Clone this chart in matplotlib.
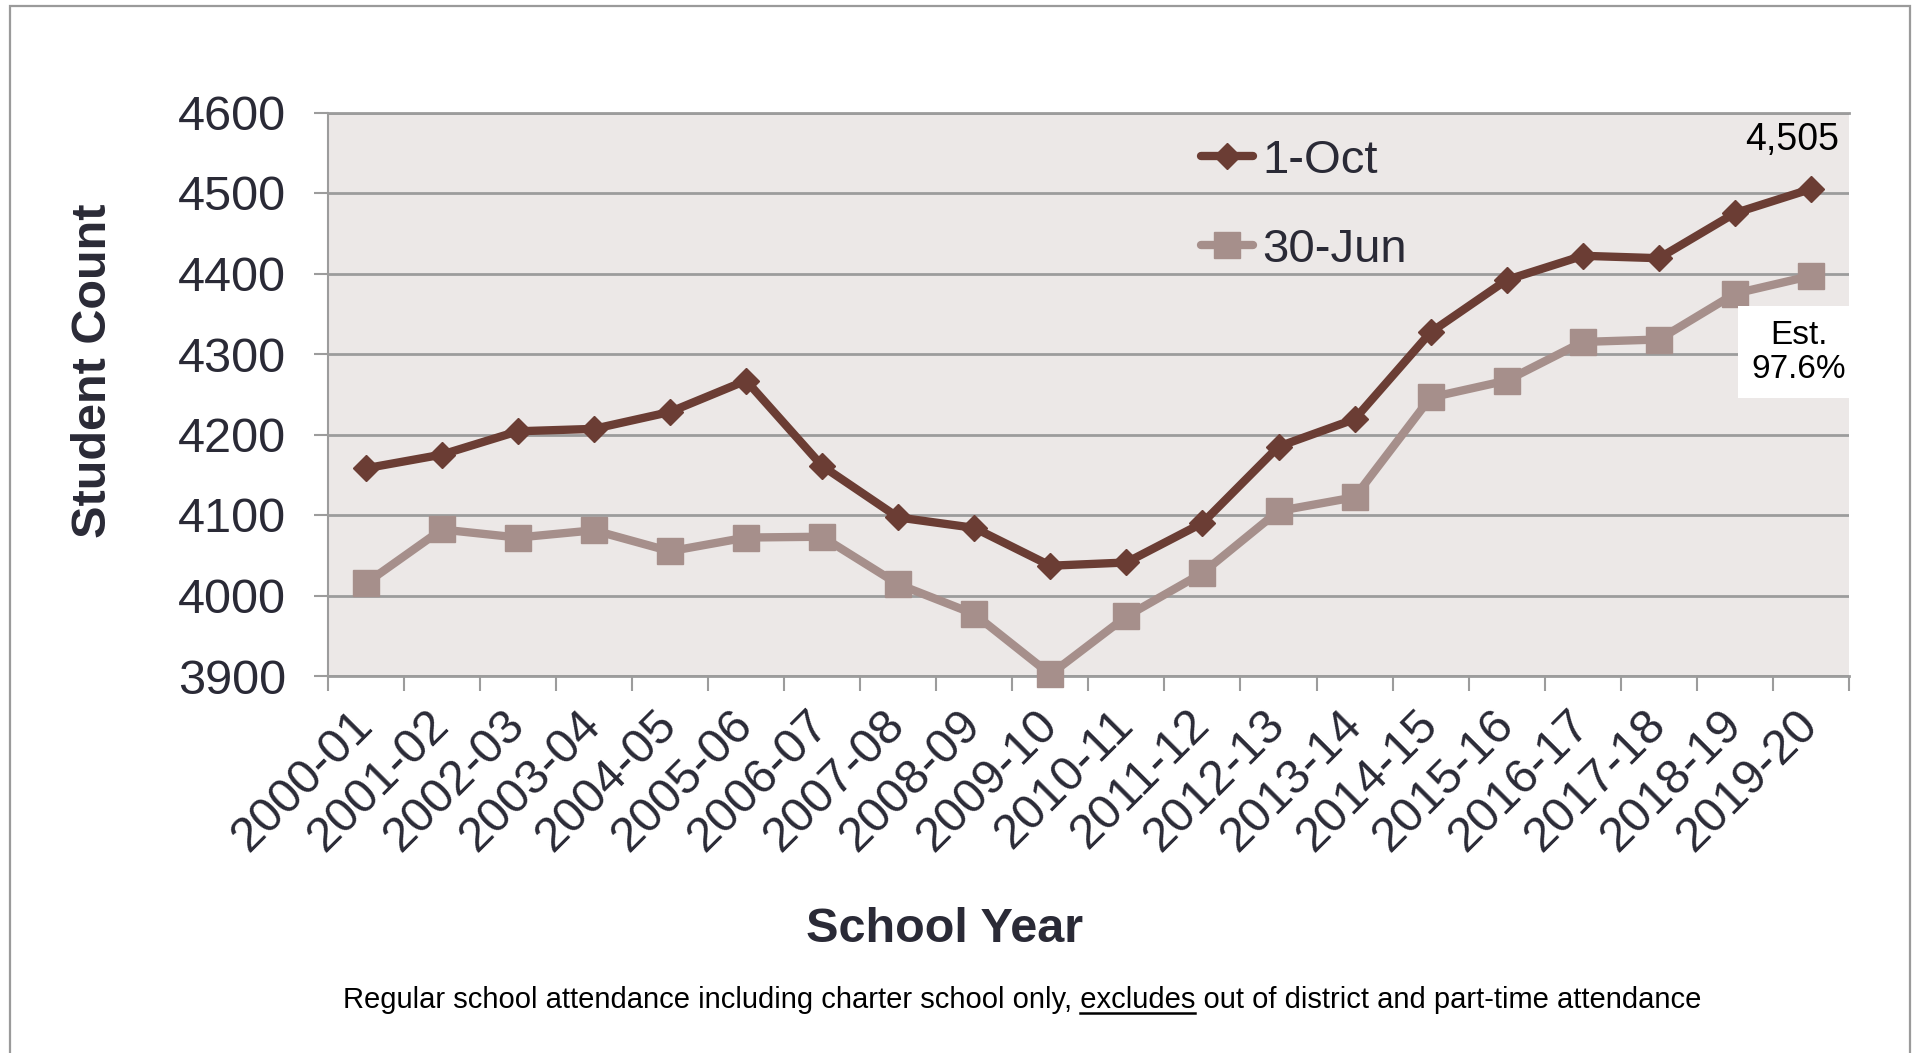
import matplotlib
matplotlib.use("Agg")
import matplotlib.pyplot as plt
from matplotlib.lines import Line2D
from matplotlib.patches import Rectangle

plt.rcParams['font.family'] = ['Liberation Sans', 'DejaVu Sans']

# data
years = ["2000-01", "2001-02", "2002-03", "2003-04", "2004-05", "2005-06",
         "2006-07", "2007-08", "2008-09", "2009-10", "2010-11", "2011-12",
         "2012-13", "2013-14", "2014-15", "2015-16", "2016-17", "2017-18",
         "2018-19", "2019-20"]
oct1 = [4158, 4175, 4204, 4207, 4228, 4267, 4161, 4097, 4084, 4037,
        4041, 4090, 4185, 4219, 4327, 4392, 4422, 4419, 4475, 4505]
jun30 = [4015, 4082, 4072, 4081, 4055, 4072, 4073, 4014, 3977, 3902,
         3974, 4028, 4105, 4122, 4246, 4267, 4315, 4318, 4375, 4397]
y_ticks = [3900, 4000, 4100, 4200, 4300, 4400, 4500, 4600]
series_names = ["1-Oct", "30-Jun"]
footer_pre = "Regular school attendance including charter school only, "
footer_mid = "excludes"
footer_post = " out of district and part-time attendance"

DARK = "#6b3d34"
LIGHT = "#a68f8b"
TXT = "#2a2a36"
GRID = "#9c9c9c"

W, H = 1917, 1053
fig = plt.figure(figsize=(W / 100, H / 100), dpi=100)
fig.patch.set_facecolor("white")

# outer frame (bottom edge runs off the canvas like in the source)
fig.add_artist(Rectangle((9.5 / W, -10 / H), (1910 - 9.5) / W, (H - 6 + 10) / H,
                         transform=fig.transFigure, fill=False,
                         edgecolor="#9a9a9a", linewidth=1.6))

ax = fig.add_axes([327.7 / W, 1 - 676 / H, (1849 - 327.7) / W, (676 - 112.5) / H])
ax.set_facecolor("#ece8e7")

xs = [i + 0.5 for i in range(len(years))]
ax.plot(xs, jun30, color=LIGHT, lw=6, marker="s", ms=18.5, label=series_names[1],
        solid_capstyle="round", zorder=3, clip_on=False)
ax.plot(xs, oct1, color=DARK, lw=6, marker="D", ms=13, label=series_names[0],
        solid_capstyle="round", zorder=4, clip_on=False)

ax.set_xlim(0, len(years))
ax.set_ylim(y_ticks[0], y_ticks[-1])
ax.set_yticks(y_ticks)
ax.set_yticklabels([str(v) for v in y_ticks], fontsize=35, color=TXT)
ax.set_xticks(xs)
ax.set_xticklabels(years, fontsize=35, color=TXT, rotation=45, ha="right",
                   va="center", rotation_mode="anchor")
ax.set_xticks(range(len(years) + 1), minor=True)
ax.tick_params(axis="x", which="major", length=0, pad=30)
ax.tick_params(axis="x", which="minor", length=11, width=1.5, color=GRID)
ax.tick_params(axis="y", length=10, width=1.5, color=GRID, pad=20)

ax.grid(axis="y", color=GRID, lw=2)
ax.set_axisbelow(True)
ax.spines["right"].set_visible(False)
ax.spines["top"].set_color(GRID)
ax.spines["top"].set_linewidth(2)
ax.spines["left"].set_color(GRID)
ax.spines["left"].set_linewidth(1.5)
ax.spines["bottom"].set_color(GRID)
ax.spines["bottom"].set_linewidth(2)

# legend
handles, labels = ax.get_legend_handles_labels()
order = [1, 0]
ax.legend([handles[i] for i in order], [labels[i] for i in order],
          loc="upper left", bbox_to_anchor=(0.574, 0.953), frameon=False,
          fontsize=34, labelcolor=TXT, borderpad=0, borderaxespad=0,
          handlelength=1.1, handletextpad=0.2, labelspacing=0.95)

# annotations
ax.annotate(f"{oct1[-1]:,}", (xs[-1], oct1[-1]), xytext=(-13.5, 35),
            textcoords="offset points", ha="center", va="center",
            fontsize=27, color="black")
pct = jun30[-1] / oct1[-1] * 100
ax.annotate(f"Est.\n{pct:.1f}%", (xs[-1], jun30[-1]), xytext=(-8.6, -55),
            textcoords="offset points", ha="center", va="center",
            fontsize=24, color="black", linespacing=1.15,
            bbox=dict(boxstyle="square,pad=0.4", fc="white", ec="none"))

# axis titles
fig.text(94 / W, 1 - 371 / H, "Student Count", rotation=90, ha="center",
         va="center", fontsize=35, fontweight="bold", color=TXT)
fig.text(945 / W, 1 - 930 / H, "School Year", ha="center", va="center",
         fontsize=35, fontweight="bold", color=TXT)

# footer with underlined word
fs = 21
full = footer_pre + footer_mid + footer_post
cx, cy = 1022, 1 - 1000 / H
t = fig.text(cx / W, cy, full, ha="center", va="center", fontsize=fs,
             color="black")
renderer = fig.canvas.get_renderer()
bb = t.get_window_extent(renderer)
prop = t.get_fontproperties()
w_pm, _, _ = renderer.get_text_width_height_descent(footer_pre + footer_mid, prop, ismath=False)
w_m, _, _ = renderer.get_text_width_height_descent(footer_mid, prop, ismath=False)
x1 = bb.x0 + w_pm - w_m
x2 = bb.x0 + w_pm
yl = bb.y0 + 1
fig.add_artist(Line2D([x1 / W, x2 / W], [yl / H, yl / H],
                      transform=fig.transFigure, color="black", lw=1.8))

fig.savefig("out.png", dpi=100, facecolor="white")
